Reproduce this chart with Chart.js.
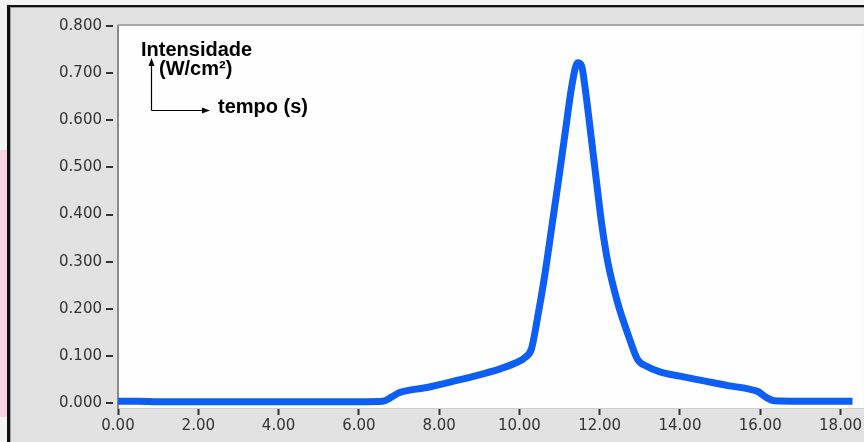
<!DOCTYPE html>
<html>
<head>
<meta charset="utf-8">
<script src="https://cdn.jsdelivr.net/npm/chart.js@4.4.1/dist/chart.umd.min.js"></script>
<style>
  html, body { margin: 0; padding: 0; background: #e2e2e2; }
  #wrap { width: 864px; height: 442px; }
</style>
</head>
<body>
<div id="wrap"><canvas id="c" width="864" height="442"></canvas></div>
<script>
// ---- data ----
const tempo = [0, 0.5, 1.0, 1.5, 2, 3, 4, 5, 6, 6.6, 6.8, 7.0, 7.3, 7.7, 8.0, 8.5, 9.0, 9.5, 9.9, 10.15,
  10.3, 10.45, 10.62, 10.8, 10.97, 11.15, 11.3, 11.45, 11.55, 11.65, 11.78, 11.92, 12.05, 12.2, 12.44,
  12.72, 12.94, 13.17, 13.5, 14.0, 14.6, 15.2, 15.7, 15.95, 16.15, 16.35, 17.0, 18.3];
const intensidade = [0.004, 0.004, 0.003, 0.003, 0.003, 0.003, 0.003, 0.003, 0.003, 0.004, 0.012, 0.022,
  0.028, 0.033, 0.039, 0.049, 0.060, 0.072, 0.085, 0.097, 0.115, 0.18, 0.265, 0.37, 0.47, 0.58, 0.67,
  0.722, 0.715, 0.66, 0.57, 0.47, 0.38, 0.30, 0.215, 0.142, 0.093, 0.078, 0.066, 0.057, 0.047, 0.037,
  0.030, 0.024, 0.012, 0.005, 0.004, 0.004];
const xTicks = [0, 2, 4, 6, 8, 10, 12, 14, 16, 18];
const yTicks = [0, 0.1, 0.2, 0.3, 0.4, 0.5, 0.6, 0.7, 0.8];
const labelY1 = 'Intensidade';
const labelY2 = '(W/cm²)';
const labelX = 'tempo (s)';

const frame = {
  id: 'frame',
  beforeDraw(chart) {
    const ctx = chart.ctx, a = chart.chartArea;
    const W = chart.width, H = chart.height;
    ctx.save();
    ctx.fillStyle = '#e2e2e2';
    ctx.fillRect(0, 0, W, H);
    ctx.fillStyle = '#f4f4f4';
    ctx.fillRect(0, 0, W, 5);
    ctx.fillRect(0, 0, 7, H);
    ctx.fillStyle = '#fcd3e2';
    ctx.fillRect(0, 150, 7, 267);
    ctx.fillStyle = '#111';
    ctx.fillRect(7, 5, W - 7, 2);
    ctx.fillRect(7, 5, 3, H - 5);
    ctx.fillStyle = '#9a9a9a';
    ctx.fillRect(10, 7, W - 10, 1);
    ctx.fillRect(10, 7, 1, H - 7);
    ctx.fillStyle = '#fefefe';
    ctx.fillRect(a.left, a.top, a.right - a.left, a.bottom - a.top);
    ctx.fillStyle = '#a8a8a8';
    ctx.fillRect(a.left, a.top - 2, a.right - a.left, 2);
    ctx.restore();
  },
  afterDraw(chart) {
    const ctx = chart.ctx, y = chart.scales.y;
    ctx.save();
    ctx.strokeStyle = '#333';
    ctx.lineWidth = 2;
    yTicks.forEach(v => {
      const py = Math.round(y.getPixelForValue(v));
      ctx.beginPath();
      ctx.moveTo(y.right - 12, py);
      ctx.lineTo(y.right - 5, py);
      ctx.stroke();
    });
    ctx.fillStyle = '#000';
    ctx.font = 'bold 20px "Liberation Sans", Arial, sans-serif';
    ctx.textBaseline = 'alphabetic';
    ctx.textAlign = 'left';
    ctx.fillText(labelY1, 141, 56);
    ctx.fillText(labelY2, 159, 75);
    ctx.fillText(labelX, 218, 113);
    ctx.strokeStyle = '#000';
    ctx.lineWidth = 1.2;
    ctx.beginPath();
    ctx.moveTo(151.5, 110.5);
    ctx.lineTo(151.5, 64);
    ctx.moveTo(151.5, 110.5);
    ctx.lineTo(204, 110.5);
    ctx.stroke();
    ctx.beginPath();
    ctx.moveTo(151.5, 58); ctx.lineTo(148.5, 66); ctx.lineTo(154.5, 66); ctx.closePath();
    ctx.moveTo(210, 110.5); ctx.lineTo(202, 107.5); ctx.lineTo(202, 113.5); ctx.closePath();
    ctx.fill();
    ctx.restore();
  }
};

new Chart(document.getElementById('c'), {
  type: 'line',
  data: {
    datasets: [{
      data: tempo.map((t, i) => ({ x: t, y: intensidade[i] })),
      borderColor: '#0d5ef4',
      borderWidth: 7,
      pointRadius: 0,
      cubicInterpolationMode: 'monotone',
      fill: false
    }]
  },
  options: {
    responsive: false,
    animation: false,
    events: [],
    layout: { padding: { top: 26, left: 0, right: 0, bottom: 0 } },
    plugins: { legend: { display: false }, tooltip: { enabled: false } },
    scales: {
      x: {
        type: 'linear',
        min: 0,
        max: 18.58,
        afterBuildTicks: s => { s.ticks = xTicks.map(v => ({ value: v })); },
        afterFit: s => { s.height = 34; },
        ticks: {
          callback: v => Number(v).toFixed(2),
          font: { family: '"DejaVu Sans", sans-serif', size: 15 },
          color: '#333',
          padding: 2,
          maxRotation: 0,
          autoSkip: false
        },
        grid: { drawOnChartArea: false, drawTicks: true, tickLength: 7, tickWidth: 2, tickColor: '#333' },
        border: { color: '#cdcdcd', width: 1 }
      },
      y: {
        min: -0.0105,
        max: 0.8,
        afterBuildTicks: s => { s.ticks = yTicks.map(v => ({ value: v })); },
        afterFit: s => { s.width = 118; },
        ticks: {
          callback: v => Number(v).toFixed(3),
          font: { family: '"DejaVu Sans", sans-serif', size: 15 },
          color: '#333',
          padding: 16
        },
        grid: { drawOnChartArea: false, drawTicks: false },
        border: { color: '#8c8c8c', width: 2 }
      }
    }
  },
  plugins: [frame]
});
</script>
</body>
</html>
